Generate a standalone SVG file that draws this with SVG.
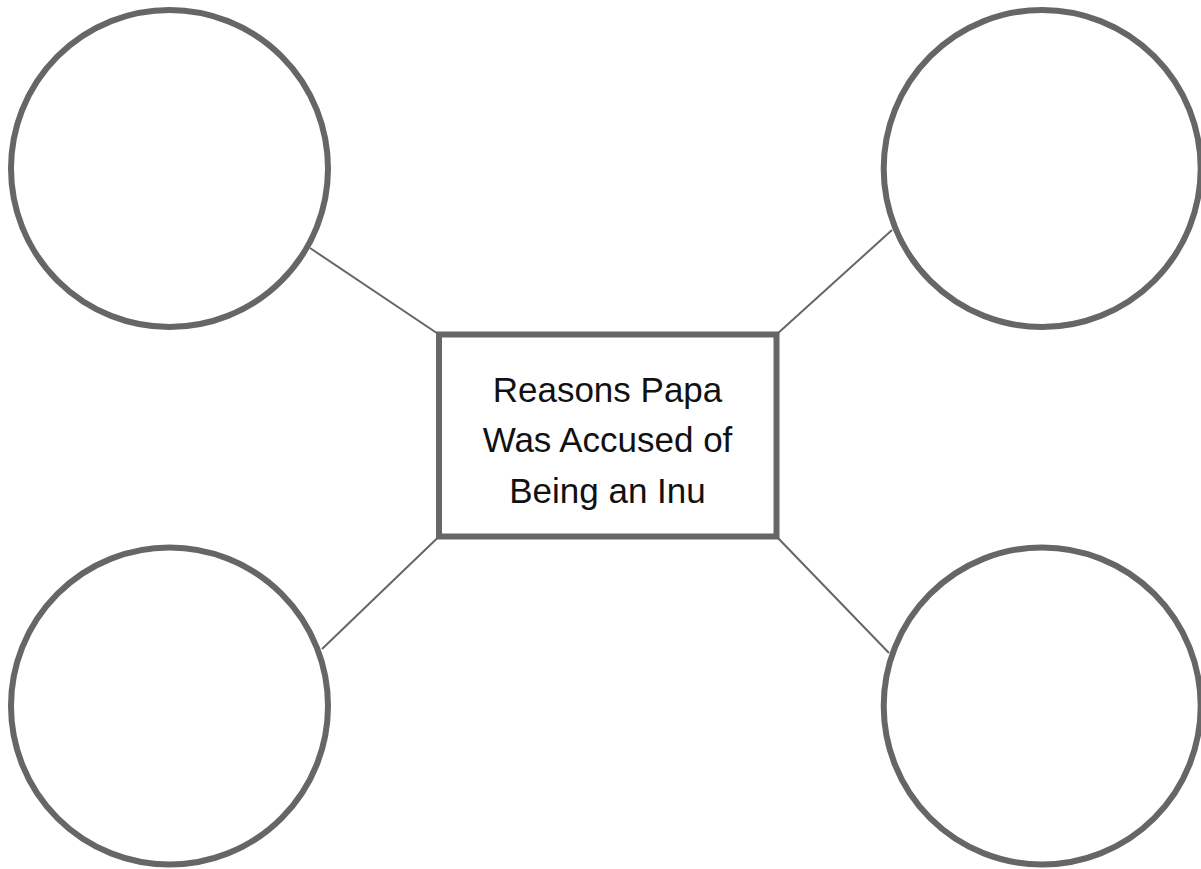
<svg xmlns="http://www.w3.org/2000/svg" width="1201" height="869" viewBox="0 0 1201 869">
<style>
.bubble{fill:#ffffff;stroke:#666666;stroke-width:6}
.box{fill:#ffffff;stroke:#666666;stroke-width:6}
.conn{stroke:#666666;stroke-width:2;fill:none}
.label{font-family:"Liberation Sans","DejaVu Sans",sans-serif;font-size:35px;fill:#111111;text-anchor:middle}
</style>
<rect x="0" y="0" width="1201" height="869" fill="#ffffff"/>
<g id="connectors">
<line class="conn" x1="439" y1="334.5" x2="310" y2="248"/>
<line class="conn" x1="776.5" y1="334.5" x2="892" y2="230"/>
<line class="conn" x1="439" y1="536.5" x2="322" y2="649"/>
<line class="conn" x1="776.5" y1="536.5" x2="889" y2="653"/>
</g>
<g id="circle-top-left"><circle class="bubble" cx="169.5" cy="168.5" r="158.5"/></g>
<g id="circle-top-right"><circle class="bubble" cx="1042.2" cy="168.5" r="158.5"/></g>
<g id="circle-bottom-left"><circle class="bubble" cx="169.5" cy="706" r="158.5"/></g>
<g id="circle-bottom-right"><circle class="bubble" cx="1042.2" cy="706" r="158.5"/></g>
<g id="center">
<rect class="box" x="439" y="334.5" width="337.5" height="202"/>
<text class="label" x="607.5" y="402">Reasons Papa</text>
<text class="label" x="607.5" y="452">Was Accused of</text>
<text class="label" x="607.5" y="503">Being an Inu</text>
</g>
</svg>
